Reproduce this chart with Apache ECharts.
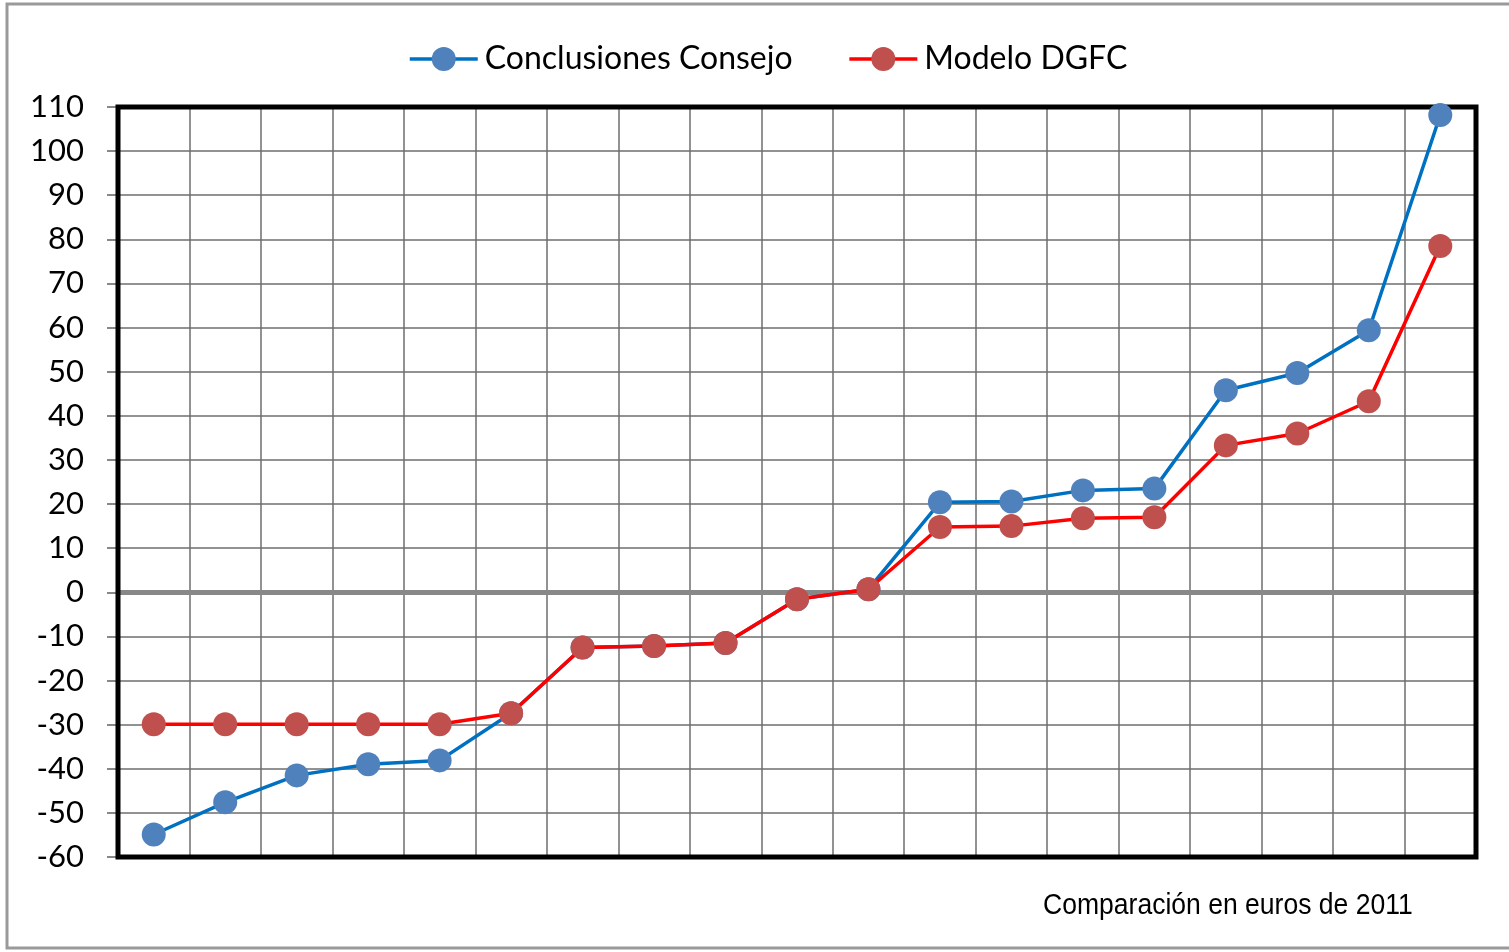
<!DOCTYPE html>
<html>
<head>
<meta charset="utf-8">
<script src="https://cdn.jsdelivr.net/npm/echarts@6/dist/echarts.min.js"></script>
<style>
html,body{margin:0;padding:0;background:#fff;}
#chart{width:1509px;height:952px;}
</style>
</head>
<body>
<div id="chart"></div>
<script>
var categories = ['1','2','3','4','5','6','7','8','9','10','11','12','13','14','15','16','17','18','19'];
var consejo = [-54.9, -47.6, -41.5, -39.0, -38.1, -27.4, -12.5, -12.2, -11.5, -1.6, 0.7, 20.4, 20.6, 23.1, 23.5, 45.8, 49.7, 59.4, 108.2];
var dgfc = [-29.9, -29.9, -29.9, -29.9, -29.9, -27.4, -12.5, -12.2, -11.5, -1.6, 0.7, 14.8, 15.0, 16.8, 17.0, 33.3, 36.0, 43.3, 78.5];
var yTicks = {min: -60, max: 110, interval: 10};
var seriesNames = ['Conclusiones Consejo', 'Modelo DGFC'];
var footnote = 'Comparación en euros de 2011';

var chart = echarts.init(document.getElementById('chart'));
var gridLine = {lineStyle: {color: 'rgba(110,110,110,0.75)', width: 2}};
chart.setOption({
  animation: false,
  backgroundColor: '#fff',
  graphic: [
    {type: 'rect', shape: {x: 7, y: 4, width: 1600, height: 944}, style: {fill: 'none', stroke: '#9a9a9a', lineWidth: 3}, z: 0},
    {type: 'text', x: 1043, y: 891, scaleX: 0.915, originX: 0, style: {text: footnote, font: '29px "Liberation Sans", Arial, sans-serif', fill: '#000'}},
    {type: 'rect', shape: {x: 118, y: 107, width: 1358, height: 750}, style: {fill: 'none', stroke: '#000', lineWidth: 5}, z: 1, silent: true}
  ],
  legend: {
    top: 38,
    left: 403,
    itemWidth: 68,
    itemHeight: 30,
    itemGap: 55,
    lineStyle: {width: 3.5},
    textStyle: {fontFamily: 'Lato, "Open Sans", sans-serif', fontSize: 32, color: '#000', padding: [0, 0, 0, 2]},
    data: seriesNames
  },
  grid: {
    left: 118, right: 33, top: 107, bottom: 95,
    show: false
  },
  xAxis: {
    type: 'category',
    data: categories,
    boundaryGap: true,
    axisLine: {show: true, onZero: true, lineStyle: {color: '#888', width: 5}},
    axisTick: {show: false},
    axisLabel: {show: false},
    splitLine: {show: true, interval: 0, lineStyle: gridLine.lineStyle}
  },
  yAxis: {
    type: 'value',
    min: yTicks.min, max: yTicks.max, interval: yTicks.interval,
    axisLine: {show: false},
    axisTick: {show: true, length: 11, lineStyle: {color: '#888', width: 2}},
    axisLabel: {margin: 34, fontFamily: 'Lato, "Open Sans", sans-serif', fontSize: 31, color: '#000'},
    splitLine: {show: true, lineStyle: gridLine.lineStyle}
  },
  series: [
    {
      name: seriesNames[0], type: 'line', data: consejo,
      symbol: 'circle', symbolSize: 24,
      lineStyle: {color: '#0070C0', width: 3.5},
      itemStyle: {color: '#4F81BD', borderWidth: 0},
      color: '#0070C0',
      z: 3
    },
    {
      name: seriesNames[1], type: 'line', data: dgfc,
      symbol: 'circle', symbolSize: 24,
      lineStyle: {color: '#FF0000', width: 3.5},
      itemStyle: {color: '#C0504D', borderWidth: 0},
      color: '#FF0000',
      z: 4
    }
  ]
});
</script>
</body>
</html>
